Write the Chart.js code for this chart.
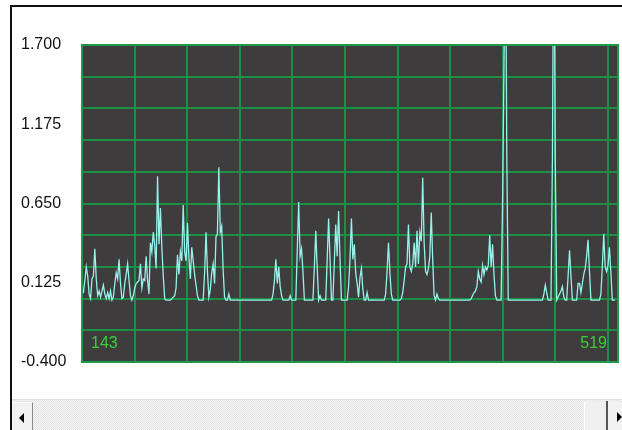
<!DOCTYPE html>
<html>
<head>
<meta charset="utf-8">
<script src="https://cdn.jsdelivr.net/npm/chart.js@4/dist/chart.umd.min.js"></script>
<style>
  html, body { margin: 0; padding: 0; background: #fff; }
  #wrap { position: relative; width: 622px; height: 430px; overflow: hidden; background: #fff; }
  #c { position: absolute; left: 0; top: 0; }
  .frameTop { position: absolute; left: 10px; top: 5px; width: 612px; height: 2px; background: #111; }
  .frameLeft { position: absolute; left: 10px; top: 5px; width: 2px; height: 425px; background: #111; }
  .sb { position: absolute; left: 12px; top: 399px; width: 610px; height: 31px;
        background-color: #ececec;
        background-image: repeating-conic-gradient(#f7f7f7 0 25%, #e2e2e2 0 50%);
        background-size: 2px 2px; border-top: 1px solid #e0e0e0; }
  .btnL { position: absolute; left: 12px; top: 402px; width: 20px; height: 28px; background: #f2f2f2;
          border-right: 1px solid #8a8a8a; border-top: 1px solid #fff; }
  .btnL::after { content: ""; position: absolute; left: 7px; top: 10px; width: 0; height: 0;
          border-top: 5px solid transparent; border-bottom: 5px solid transparent; border-right: 5px solid #000; }
  .thumb { position: absolute; left: 584px; top: 402px; width: 21px; height: 28px; background: #f0f0f0;
          border-left: 1px solid #fff; border-right: 1px solid #cfcfcf; }
  .sep { position: absolute; left: 606px; top: 401px; width: 2px; height: 29px; background: #555; }
  .btnR { position: absolute; left: 608px; top: 402px; width: 14px; height: 28px; background: #f2f2f2; }
  .btnR::after { content: ""; position: absolute; left: 9px; top: 10px; width: 0; height: 0;
          border-top: 5px solid transparent; border-bottom: 5px solid transparent; border-left: 5px solid #000; }
</style>
</head>
<body>
<div id="wrap">
  <canvas id="c" width="622" height="430"></canvas>
  <div class="frameTop"></div>
  <div class="frameLeft"></div>
  <div class="sb"></div>
  <div class="btnL"></div>
  <div class="thumb"></div>
  <div class="sep"></div>
  <div class="btnR"></div>
</div>
<script>
// ---- data ----
const sampleIndex = [
  143,144,145,146,147,148,149,150,151,152,153,154,155,156,157,158,159,160,161,162,
  163,164,165,166,167,168,169,170,171,172,173,174,175,176,177,178,179,180,181,182,
  183,184,185,186,187,188,189,190,191,192,193,194,195,196,197,198,199,200,201,202,
  203,204,205,206,207,208,209,210,211,212,213,214,215,216,217,218,219,220,221,222,
  223,224,225,226,227,228,229,230,231,232,233,234,235,236,237,238,239,240,241,242,
  243,244,245,246,247,248,
  276,277,278,279,280,281,282,283,284,
  288,289,290,
  293,294,295,296,297,298,299,
  305,306,307,308,309,310,311,
  314,315,316,317,318,319,320,321,322,323,324,325,
  329,330,331,332,333,334,335,336,337,338,339,340,341,342,343,344,
  355,356,357,358,359,360,361,
  366,367,368,369,370,371,372,373,374,375,376,377,378,379,380,381,382,383,384,385,
  386,387,388,389,390,391,392,393,394,
  415,416,417,418,419,420,421,422,423,424,425,426,427,428,429,430,431,432,433,434,
  437,438,439,440,441,442,
  466,467,468,469,470,
  472,473,474,475,476,477,478,479,480,481,482,
  483,484,485,486,487,
  490,491,492,493,494,495,496,497,498,499,500,
  506,507,508,509,510,511,512,513,514,515,517
];
const amplitude = [
  0.05,0.06,0.14,0.23,0.17,0.05,0.02,0.15,0.17,0.35,0.15,0.04,0.07,0.03,0.07,0.11,0.05,0.02,0.06,0.02,
  0.07,0.01,0.03,0.12,0.19,0.15,0.28,0.12,0.02,0.03,0.12,0.18,0.25,0.14,0.04,0.01,0.04,0.09,0.12,0.13,
  0.14,0.25,0.09,0.15,0.14,0.30,0.14,0.05,0.39,0.33,0.46,0.37,0.22,0.83,0.38,0.62,0.36,0.17,0.02,0.01,
  0.01,0.01,0.01,0.02,0.03,0.04,0.09,0.31,0.18,0.33,0.27,0.64,0.33,0.27,0.52,0.29,0.15,0.36,0.27,0.18,
  0.11,0.04,0.01,0.01,0.01,0.01,0.19,0.46,0.20,0.03,0.08,0.19,0.25,0.12,0.43,0.45,0.89,0.46,0.50,0.21,
  0.03,0.01,0.01,0.05,0.01,0.01,
  0.01,0.05,0.14,0.28,0.12,0.23,0.10,0.04,0.01,
  0.01,0.04,0.01,
  0.01,0.34,0.66,0.30,0.35,0.20,0.01,
  0.01,0.23,0.47,0.22,0.01,0.04,0.01,
  0.01,0.28,0.55,0.28,0.01,0.01,0.26,0.51,0.30,0.60,0.28,0.01,
  0.01,0.10,0.28,0.55,0.28,0.38,0.19,0.12,0.03,0.16,0.22,0.08,0.01,0.01,0.06,0.01,
  0.01,0.05,0.20,0.39,0.19,0.05,0.01,
  0.01,0.02,0.06,0.14,0.23,0.25,0.51,0.23,0.20,0.25,0.39,0.23,0.47,0.25,0.46,0.40,0.82,0.39,0.20,0.18,
  0.22,0.30,0.59,0.28,0.04,0.01,0.05,0.02,0.01,
  0.01,0.02,0.04,0.06,0.07,0.10,0.20,0.15,0.13,0.24,0.18,0.23,0.21,0.24,0.44,0.23,0.38,0.18,0.04,0.01,
  0.01,0.64,1.55,2.60,0.97,0.01,
  0.01,0.05,0.11,0.06,0.01,
  0.01,0.95,2.80,0.95,0.01,0.03,0.05,0.07,0.10,0.03,0.01,
  0.01,0.17,0.34,0.17,0.01,
  0.01,0.12,0.12,0.06,0.12,0.18,0.22,0.30,0.41,0.20,0.01,
  0.01,0.05,0.23,0.45,0.23,0.20,0.24,0.36,0.19,0.01,0.01
];
const yTickLabels = ['1.700', '1.175', '0.650', '0.125', '-0.400'];
const xRangeLabels = ['143', '519'];

// ---- chart ----
const yValues = yTickLabels.map(Number);
const yMax = Math.max(...yValues), yMin = Math.min(...yValues);
const xMin = Number(xRangeLabels[0]), xMax = Number(xRangeLabels[1]);
const points = sampleIndex.map((x, k) => ({ x: x, y: amplitude[k] }));

const FONT = "'Liberation Sans', Arial, sans-serif";
const GRID = '#1a8f45';

const plotBg = {
  id: 'plotBg',
  beforeDraw(chart) {
    const a = chart.chartArea, ctx = chart.ctx;
    ctx.save();
    ctx.fillStyle = '#3e3c3c';
    ctx.fillRect(a.left, a.top, a.right - a.left, a.bottom - a.top);
    ctx.restore();
  }
};
const frame = {
  id: 'frame',
  afterDraw(chart) {
    const a = chart.chartArea, ctx = chart.ctx;
    ctx.save();
    ctx.strokeStyle = '#1f9a48';
    ctx.lineWidth = 2;
    ctx.strokeRect(a.left, a.top, a.right - a.left, a.bottom - a.top);
    ctx.restore();
  }
};
const rangeLabels = {
  id: 'rangeLabels',
  afterDraw(chart) {
    const a = chart.chartArea, ctx = chart.ctx;
    ctx.save();
    ctx.font = '16px ' + FONT;
    ctx.fillStyle = '#3ccc3c';
    ctx.textBaseline = 'alphabetic';
    ctx.textAlign = 'left';
    ctx.fillText(xRangeLabels[0], a.left + 9, a.bottom - 14);
    ctx.textAlign = 'right';
    ctx.fillText(xRangeLabels[1], a.right - 11, a.bottom - 14);
    ctx.restore();
  }
};

new Chart(document.getElementById('c'), {
  type: 'line',
  data: {
    datasets: [{
      data: points,
      xAxisID: 'x',
      yAxisID: 'y',
      borderColor: 'rgb(150,242,234)',
      borderWidth: 1.3,
      pointRadius: 0,
      tension: 0,
      fill: false
    }]
  },
  options: {
    responsive: false,
    animation: false,
    devicePixelRatio: 1,
    layout: { padding: { left: 21, top: 45, right: 4, bottom: 68 } },
    plugins: { legend: { display: false }, tooltip: { enabled: false } },
    scales: {
      x: { type: 'linear', min: xMin, max: xMax, display: false },
      xg: {
        type: 'linear', position: 'bottom', min: 0, max: 10.19,
        grid: { color: GRID, lineWidth: 2, drawTicks: false },
        border: { display: false },
        ticks: { display: false, stepSize: 1, includeBounds: false }
      },
      yl: {
        type: 'linear', position: 'left', min: yMin, max: yMax, weight: 1,
        grid: { display: false, drawTicks: false },
        border: { display: false },
        afterBuildTicks: s => { s.ticks = yValues.map(v => ({ value: v })); },
        afterFit: s => { s.width = 61; },
        ticks: {
          crossAlign: 'far', padding: 0, color: '#111',
          font: { family: FONT, size: 16 },
          callback: (v) => yTickLabels[yValues.indexOf(v)] ?? ''
        }
      },
      y: {
        type: 'linear', position: 'left', min: yMin, max: yMax, weight: 0,
        grid: { color: GRID, lineWidth: 2, drawTicks: false },
        border: { display: false },
        afterBuildTicks: s => {
          const t = [];
          for (let k = 0; k <= 10; k++) t.push({ value: s.min + k * (s.max - s.min) / 10 });
          s.ticks = t;
        },
        afterFit: s => { s.width = 0; },
        ticks: { display: false }
      }
    }
  },
  plugins: [plotBg, frame, rangeLabels]
});
</script>
</body>
</html>
